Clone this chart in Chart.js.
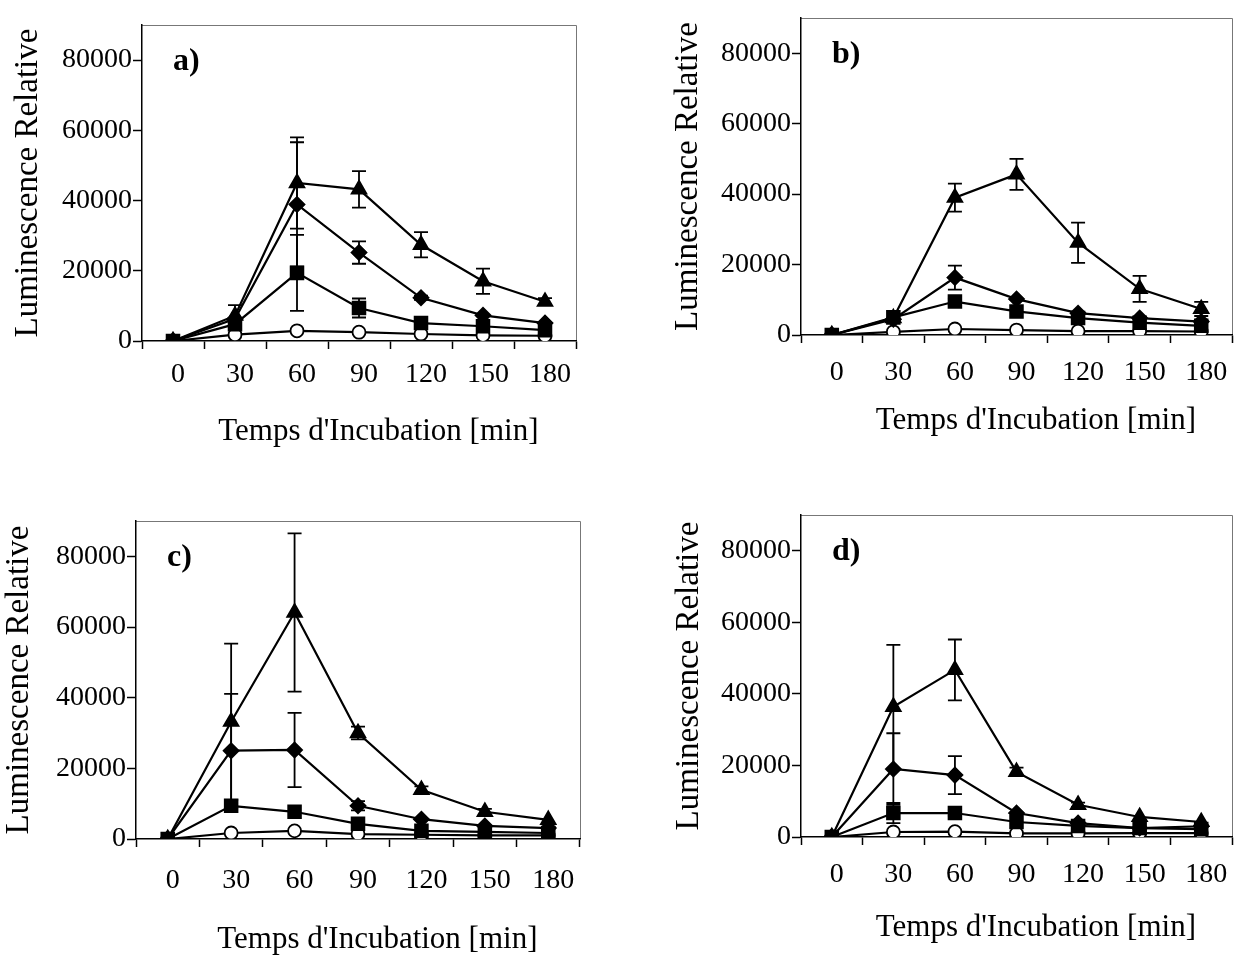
<!DOCTYPE html>
<html>
<head>
<meta charset="utf-8">
<script src="https://cdn.jsdelivr.net/npm/chart.js@4.4.1/dist/chart.umd.min.js"></script>
<style>
  body { margin: 0; background: #fff; }
  canvas { position: absolute; }
</style>
</head>
<body>
<canvas id="chartA" width="610" height="470" style="left:0px;top:0px"></canvas>
<canvas id="chartB" width="626" height="470" style="left:620px;top:0px"></canvas>
<canvas id="chartC" width="610" height="475" style="left:0px;top:480px"></canvas>
<canvas id="chartD" width="626" height="475" style="left:620px;top:480px"></canvas>
<script>
// incubation times (min) and y tick values
const times = ['0', '30', '60', '90', '120', '150', '180'];
const yTicks = [0, 20000, 40000, 60000, 80000];

// a)
const triA = [0, 7200, 45000, 43200, 27400, 17000, 11200];
const diaA = [0, 6300, 38900, 25200, 12300, 7300, 5100];
const sqA = [0, 4800, 19400, 9400, 5100, 4200, 3100];
const circA = [0, 1800, 2900, 2500, 2000, 1600, 1500];
const errTriA = [0, 3000, 13000, 5200, 3600, 3600, 1000];
const errDiaA = [0, 0, 17700, 3200, 600, 0, 0];
const errSqA = [0, 0, 10800, 2700, 0, 0, 0];

// b)
const triB = [0, 4800, 39000, 45600, 26200, 13100, 7400];
const diaB = [0, 4500, 16300, 10200, 6200, 4800, 3800];
const sqB = [0, 5000, 9500, 6700, 4800, 3500, 2600];
const circB = [0, 900, 1700, 1400, 1100, 1100, 1000];
const errTriB = [0, 0, 4000, 4400, 5700, 3700, 2000];
const errDiaB = [0, 0, 3400, 0, 0, 0, 0];
const errSqB = [0, 0, 800, 0, 0, 0, 0];

// c)
const triC = [0, 33200, 64100, 30000, 13900, 7700, 5400];
const diaC = [0, 25000, 25200, 9400, 5600, 3700, 3100];
const sqC = [0, 9400, 7700, 4300, 2300, 2000, 1700];
const circC = [0, 1700, 2300, 1400, 1200, 1000, 1000];
const errTriC = [0, 22100, 22400, 1800, 1000, 800, 0];
const errDiaC = [0, 16100, 10500, 1300, 0, 0, 0];
const errSqC = [0, 0, 0, 0, 0, 0, 0];

// d)
const triD = [0, 36400, 46700, 18200, 9000, 5600, 4200];
const diaD = [0, 19000, 17300, 6700, 3900, 2500, 3000];
const sqD = [0, 6700, 6700, 4200, 3100, 2500, 2200];
const circD = [0, 1400, 1500, 1000, 1000, 1100, 1100];
const errTriD = [0, 17300, 8500, 1200, 600, 0, 0];
const errDiaD = [0, 10000, 5300, 0, 0, 0, 0];
const errSqD = [0, 2800, 800, 0, 0, 0, 0];

const serif = "'Liberation Serif', 'Times New Roman', serif";

// vertical error bars with caps, positioned by the chart's own scales
const errorBars = {
  id: 'errorBars',
  beforeDatasetsDraw(chart) {
    const ctx = chart.ctx;
    const y = chart.scales.y;
    ctx.save();
    ctx.strokeStyle = '#000';
    ctx.lineWidth = 1.8;
    chart.data.datasets.forEach((ds, i) => {
      if (!ds.errors) return;
      const meta = chart.getDatasetMeta(i);
      meta.data.forEach((pt, j) => {
        const e = ds.errors[j];
        if (!e) return;
        const top = y.getPixelForValue(ds.data[j] + e);
        const bot = y.getPixelForValue(Math.max(ds.data[j] - e, 0));
        ctx.beginPath();
        ctx.moveTo(pt.x, top);
        ctx.lineTo(pt.x, bot);
        ctx.moveTo(pt.x - 7, top);
        ctx.lineTo(pt.x + 7, top);
        ctx.moveTo(pt.x - 7, bot);
        ctx.lineTo(pt.x + 7, bot);
        ctx.stroke();
      });
    });
    ctx.restore();
  }
};

// thin top/right frame and the panel letter
const frame = {
  id: 'frame',
  beforeDraw(chart, args, opts) {
    const { left, right, top, bottom } = chart.chartArea;
    const ctx = chart.ctx;
    ctx.save();
    ctx.strokeStyle = '#777';
    ctx.lineWidth = 1;
    ctx.beginPath();
    ctx.moveTo(left, top + 0.5);
    ctx.lineTo(right + 0.5, top + 0.5);
    ctx.lineTo(right + 0.5, bottom);
    ctx.stroke();
    ctx.fillStyle = '#000';
    ctx.font = 'bold 32px ' + serif;
    ctx.textBaseline = 'middle';
    ctx.fillText(opts.label, left + 31, top + 37);
    ctx.restore();
  }
};

function makeChart(id, c) {
  const tickGrid = (len) => ({
    drawOnChartArea: false,
    drawTicks: true,
    tickLength: len,
    tickColor: '#000',
    tickWidth: 1.5,
    offset: true
  });

  new Chart(document.getElementById(id), {
    type: 'line',
    data: {
      labels: times,
      datasets: [{
        data: c.tri,
        errors: c.errTri,
        pointStyle: 'triangle',
        pointRadius: 8.5
      }, {
        data: c.dia,
        errors: c.errDia,
        pointStyle: 'rectRot',
        pointRadius: 7.5
      }, {
        data: c.sq,
        errors: c.errSq,
        pointStyle: 'rect',
        pointRadius: 9
      }, {
        data: c.circ,
        pointStyle: 'circle',
        pointRadius: 6.5,
        pointBackgroundColor: '#fff'
      }].map(ds => Object.assign({
        borderColor: '#000',
        borderWidth: 2.2,
        pointBackgroundColor: '#000',
        pointBorderColor: '#000',
        pointBorderWidth: 1.8,
        tension: 0,
        fill: false
      }, ds))
    },
    options: {
      responsive: false,
      animation: false,
      devicePixelRatio: 1,
      events: [],
      layout: { padding: c.pad },
      plugins: {
        legend: { display: false },
        tooltip: { enabled: false },
        frame: { label: c.label }
      },
      scales: {
        x: {
          type: 'category',
          offset: true,
          grid: tickGrid(8),
          border: { color: '#000', width: 1.5 },
          ticks: {
            color: '#000',
            font: { family: serif, size: 28, lineHeight: 1 },
            padding: c.xLabelPad,
            labelOffset: 5,
            maxRotation: 0,
            autoSkip: false
          },
          title: {
            display: true,
            text: "     Temps d'Incubation [min]",
            color: '#000',
            font: { family: serif, size: 31, lineHeight: 1 },
            padding: { top: 0, bottom: c.xTitlePad }
          },
          afterFit(s) { s.height = c.xHeight; }
        },
        y: {
          min: 0,
          max: 90000,
          bounds: 'data',
          grid: Object.assign(tickGrid(9), { offset: false }),
          border: { color: '#000', width: 1.5 },
          ticks: {
            color: '#000',
            stepSize: 20000,
            includeBounds: false,
            font: { family: serif, size: 28, lineHeight: 1 },
            padding: 1,
            callback: v => String(v)
          },
          afterBuildTicks(s) { s.ticks = yTicks.map(v => ({ value: v })); },
          title: {
            display: true,
            text: 'Luminescence Relative',
            color: '#000',
            font: { family: serif, size: 33, lineHeight: 1 },
            padding: { top: c.yTitlePad, bottom: 0 }
          },
          afterFit(s) { s.width = c.yWidth; }
        }
      }
    },
    plugins: [errorBars, frame]
  });
}

makeChart('chartA', {
  tri: triA, dia: diaA, sq: sqA, circ: circA,
  errTri: errTriA, errDia: errDiaA, errSq: errSqA, label: 'a)',
  pad: { left: 0, right: 34, top: 25, bottom: 0 },
  yWidth: 142, xHeight: 129, yTitlePad: 11.5, xTitlePad: 22.5, xLabelPad: 12
});
makeChart('chartB', {
  tri: triB, dia: diaB, sq: sqB, circ: circB,
  errTri: errTriB, errDia: errDiaB, errSq: errSqB, label: 'b)',
  pad: { left: 0, right: 14, top: 18, bottom: 0 },
  yWidth: 181, xHeight: 135, yTitlePad: 52, xTitlePad: 33.5, xLabelPad: 16
});
makeChart('chartC', {
  tri: triC, dia: diaC, sq: sqC, circ: circC,
  errTri: errTriC, errDia: errDiaC, errSq: errSqC, label: 'c)',
  pad: { left: 0, right: 30, top: 41, bottom: 0 },
  yWidth: 136, xHeight: 116, yTitlePad: 3, xTitlePad: 0, xLabelPad: 20
});
makeChart('chartD', {
  tri: triD, dia: diaD, sq: sqD, circ: circD,
  errTri: errTriD, errDia: errDiaD, errSq: errSqD, label: 'd)',
  pad: { left: 0, right: 14, top: 35, bottom: 0 },
  yWidth: 181, xHeight: 118, yTitlePad: 53, xTitlePad: 11.5, xLabelPad: 16
});
</script>
</body>
</html>
